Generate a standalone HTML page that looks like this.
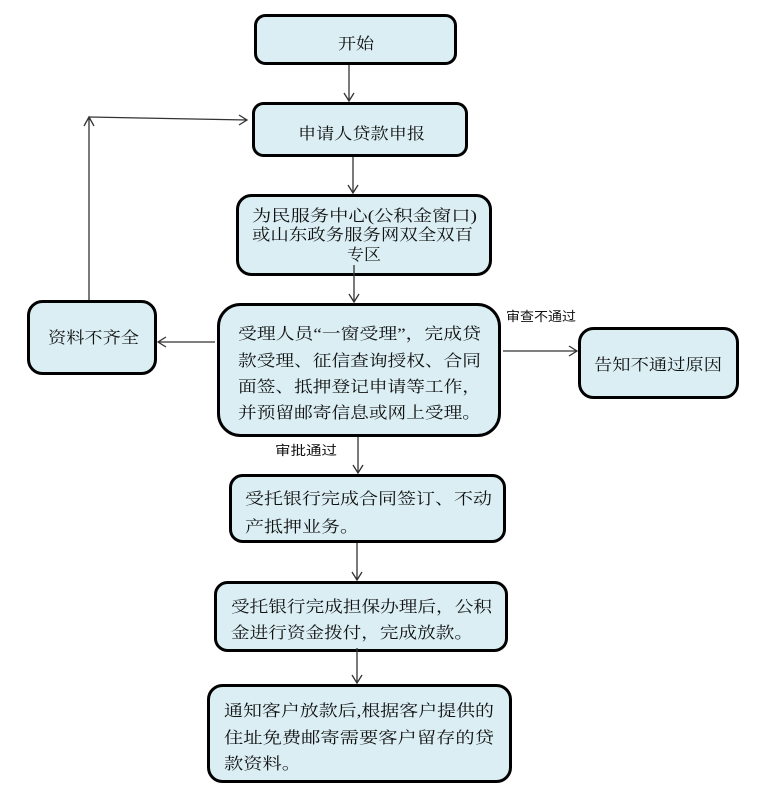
<!DOCTYPE html>
<html>
<head>
<meta charset="utf-8">
<style>
html,body{margin:0;padding:0;background:#fff;}
svg{display:block;}
text{font-family:"Liberation Serif","Noto Serif CJK SC","Noto Sans CJK SC",serif;fill:#111;}
.t{font-size:16px;}
.s{font-size:13px;font-family:"Liberation Sans","Noto Sans CJK SC",sans-serif;}
.b{fill:#DAEEF3;stroke:#000;stroke-width:3;}
.l{stroke:#333;stroke-width:1.3;fill:none;}
</style>
</head>
<body>
<svg width="758" height="807" viewBox="0 0 758 807" xmlns="http://www.w3.org/2000/svg">
<!-- boxes -->
<rect class="b" x="255.5" y="15.5" width="200" height="48" rx="10"/>
<rect class="b" x="253.5" y="103.5" width="213" height="52" rx="10"/>
<rect class="b" x="237.5" y="195.5" width="253" height="79" rx="14"/>
<rect class="b" x="28.5" y="301.5" width="127" height="72" rx="14"/>
<rect class="b" x="218.5" y="304.5" width="281" height="131" rx="22"/>
<rect class="b" x="579.5" y="328.5" width="158" height="69" rx="14"/>
<rect class="b" x="230.5" y="475.5" width="274" height="66" rx="12"/>
<rect class="b" x="215.5" y="582.5" width="291" height="68" rx="12"/>
<rect class="b" x="208.5" y="685.5" width="302" height="96" rx="14"/>

<!-- connectors -->
<path class="l" d="M349 65 V101 M344 93 L349 101 L354 93"/>
<path class="l" d="M353 157 V193 M348 185 L353 193 L358 185"/>
<path class="l" d="M354 265 V302 M349 294 L354 302 L359 294"/>
<path class="l" d="M215 342 H158 M166 337 L158 342 L166 347"/>
<path class="l" d="M503 351 H577 M569 346 L577 351 L569 356"/>
<path class="l" d="M358 437 V473 M353 465 L358 473 L363 465"/>
<path class="l" d="M357 543 V580 M352 572 L357 580 L362 572"/>
<path class="l" d="M357 648 V683 M352 675 L357 683 L362 675"/>
<path class="l" d="M89 300 V117 M84 126 L89 117 L94 126"/>
<path class="l" d="M89 117 L247 120 M239 115 L247 120 L239 125"/>

<!-- labels -->
<text class="t" x="338" y="49" textLength="36" lengthAdjust="spacingAndGlyphs">开始</text>
<text class="t" x="298" y="139" textLength="127" lengthAdjust="spacingAndGlyphs">申请人贷款申报</text>

<text class="t" x="252" y="221" textLength="225" lengthAdjust="spacingAndGlyphs">为民服务中心(公积金窗口)</text>
<text class="t" x="252" y="240" textLength="221" lengthAdjust="spacingAndGlyphs">或山东政务服务网双全双百</text>
<text class="t" x="347" y="260" textLength="34" lengthAdjust="spacingAndGlyphs">专区</text>

<text class="t" x="48" y="343" textLength="91" lengthAdjust="spacingAndGlyphs">资料不齐全</text>

<text class="t" x="238" y="339" textLength="243" lengthAdjust="spacingAndGlyphs">受理人员“一窗受理”，完成贷</text>
<text class="t" x="238" y="366" textLength="243" lengthAdjust="spacingAndGlyphs">款受理、征信查询授权、合同</text>
<text class="t" x="238" y="392" textLength="243" lengthAdjust="spacingAndGlyphs">面签、抵押登记申请等工作，</text>
<text class="t" x="238" y="418" textLength="243" lengthAdjust="spacingAndGlyphs">并预留邮寄信息或网上受理。</text>

<text class="t" x="594" y="370" textLength="128" lengthAdjust="spacingAndGlyphs">告知不通过原因</text>

<text class="s" x="506" y="321" textLength="70" lengthAdjust="spacingAndGlyphs">审查不通过</text>
<text class="s" x="275" y="455" textLength="62" lengthAdjust="spacingAndGlyphs">审批通过</text>

<text class="t" x="245" y="504" textLength="247" lengthAdjust="spacingAndGlyphs">受托银行完成合同签订、不动</text>
<text class="t" x="245" y="532" textLength="114" lengthAdjust="spacingAndGlyphs">产抵押业务。</text>

<text class="t" x="231" y="612" textLength="261" lengthAdjust="spacingAndGlyphs">受托银行完成担保办理后，公积</text>
<text class="t" x="231" y="638" textLength="242" lengthAdjust="spacingAndGlyphs">金进行资金拨付，完成放款。</text>

<text class="t" x="224" y="716" textLength="270" lengthAdjust="spacingAndGlyphs">通知客户放款后,根据客户提供的</text>
<text class="t" x="224" y="743" textLength="270" lengthAdjust="spacingAndGlyphs">住址免费邮寄需要客户留存的贷</text>
<text class="t" x="224" y="769" textLength="77" lengthAdjust="spacingAndGlyphs">款资料。</text>
</svg>
</body>
</html>
